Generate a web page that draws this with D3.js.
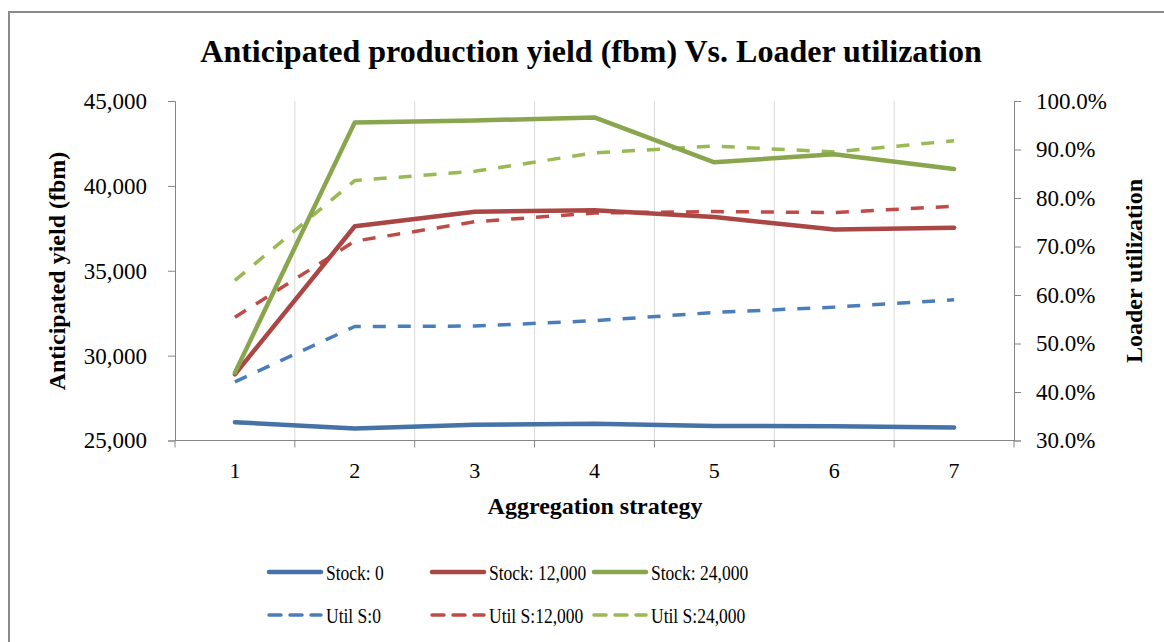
<!DOCTYPE html>
<html>
<head>
<meta charset="utf-8">
<script src="https://cdn.jsdelivr.net/npm/d3@7"></script>
<style>
  html, body { margin: 0; padding: 0; background: #fff; }
  svg { display: block; }
  text { font-family: "Liberation Serif", "Times New Roman", serif; fill: #000; }
</style>
</head>
<body>
<svg id="chart" width="1164" height="642"></svg>
<script>
// Aggregation strategies on the x axis
const strategies = ["1", "2", "3", "4", "5", "6", "7"];

// Anticipated yield (fbm), left axis
const stock0     = [26080, 25700, 25930, 25990, 25860, 25840, 25770];
const stock12000 = [28900, 37620, 38480, 38570, 38170, 37430, 37540];
const stock24000 = [29000, 43740, 43850, 44030, 41390, 41860, 41000];

// Loader utilization (fraction), right axis
const util0     = [0.421, 0.535, 0.536, 0.547, 0.564, 0.575, 0.590];
const util12000 = [0.554, 0.711, 0.751, 0.769, 0.772, 0.770, 0.783];
const util24000 = [0.630, 0.836, 0.855, 0.893, 0.907, 0.895, 0.918];

// Tick values
const yieldTicks = [25000, 30000, 35000, 40000, 45000];
const utilTicks = [0.3, 0.4, 0.5, 0.6, 0.7, 0.8, 0.9, 1.0];

const BLUE = "#4a7ebb", RED = "#be4b48", GREEN = "#98b954";
const BLUE_S = "#4572a7", RED_S = "#aa4643", GREEN_S = "#89a54e";

const series = [
  { name: "Stock: 0",       values: stock0,     axis: "left",  color: BLUE_S,  dash: null },
  { name: "Stock: 12,000",  values: stock12000, axis: "left",  color: RED_S,   dash: null },
  { name: "Stock: 24,000",  values: stock24000, axis: "left",  color: GREEN_S, dash: null },
  { name: "Util S:0",       values: util0,      axis: "right", color: BLUE,    dash: "13,12" },
  { name: "Util S:12,000",  values: util12000,  axis: "right", color: RED,     dash: "13,12" },
  { name: "Util S:24,000",  values: util24000,  axis: "right", color: GREEN,   dash: "13,12" }
];

const svg = d3.select("#chart");

// Outer chart frame
svg.append("rect")
  .attr("x", 9).attr("y", 12)
  .attr("width", 1200).attr("height", 700)
  .attr("fill", "#fff")
  .attr("stroke", "#8a8a8a").attr("stroke-width", 2);

const plot = { left: 175, right: 1014, top: 101, bottom: 440.5 };

const x = d3.scaleBand().domain(strategies).range([plot.left, plot.right]).padding(0);
const yL = d3.scaleLinear().domain([25000, 45000]).range([plot.bottom, plot.top]);
const yR = d3.scaleLinear().domain([0.3, 1.0]).range([plot.bottom, plot.top]);

// Vertical gridlines between categories
const bounds = strategies.slice(1).map(s => x(s));
svg.append("g").selectAll("line").data(bounds).join("line")
  .attr("x1", d => d).attr("x2", d => d)
  .attr("y1", plot.top).attr("y2", plot.bottom)
  .attr("stroke", "#d9d9d9").attr("stroke-width", 1);

// Title
svg.append("text")
  .attr("x", 591).attr("y", 62)
  .attr("text-anchor", "middle")
  .style("font-size", "32px").style("font-weight", "bold")
  .text("Anticipated production yield (fbm) Vs. Loader utilization");

// Left axis
const fmtYield = d3.format(",");
const gL = svg.append("g").attr("transform", `translate(${plot.left},0)`)
  .call(d3.axisLeft(yL).tickValues(yieldTicks).tickFormat(fmtYield).tickSize(7).tickPadding(21));
gL.select(".domain").attr("stroke", "#868686");
gL.selectAll(".tick line").attr("stroke", "#868686");
gL.selectAll(".tick text").style("font-size", "23px").style("font-family", "Liberation Serif, serif").attr("fill", "#000");

// Right axis
const fmtPct = d3.format(".1%");
const gR = svg.append("g").attr("transform", `translate(${plot.right},0)`)
  .call(d3.axisRight(yR).tickValues(utilTicks).tickFormat(fmtPct).tickSize(7).tickPadding(15));
gR.select(".domain").attr("stroke", "#868686");
gR.selectAll(".tick line").attr("stroke", "#868686");
gR.selectAll(".tick text").style("font-size", "23px").style("font-family", "Liberation Serif, serif").attr("fill", "#000");

// Bottom axis: category labels at band centers, ticks at band edges
const gB = svg.append("g").attr("transform", `translate(0,${plot.bottom})`);
gB.append("line")
  .attr("x1", plot.left).attr("x2", plot.right)
  .attr("stroke", "#868686").attr("stroke-width", 1);
const edges = strategies.map(s => x(s)).concat([plot.right]);
gB.selectAll("line.tk").data(edges).join("line").attr("class", "tk")
  .attr("x1", d => d).attr("x2", d => d).attr("y1", 0).attr("y2", 7)
  .attr("stroke", "#868686");
gB.selectAll("text").data(strategies).join("text")
  .attr("x", d => x(d) + x.bandwidth() / 2).attr("y", 37)
  .attr("text-anchor", "middle")
  .style("font-size", "22px")
  .text(d => d);

// Axis titles
svg.append("text")
  .attr("transform", "translate(65,271) rotate(-90)")
  .attr("text-anchor", "middle")
  .style("font-size", "24px").style("font-weight", "bold")
  .text("Anticipated yield (fbm)");
svg.append("text")
  .attr("transform", "translate(1142,271) rotate(-90)")
  .attr("text-anchor", "middle")
  .style("font-size", "24px").style("font-weight", "bold")
  .text("Loader utilization");
svg.append("text")
  .attr("x", 595).attr("y", 514)
  .attr("text-anchor", "middle")
  .style("font-size", "24px").style("font-weight", "bold")
  .text("Aggregation strategy");

// Series lines
const cx = d => x(d) + x.bandwidth() / 2;
const draw = [series[3], series[4], series[5], series[0], series[1], series[2]];
draw.forEach(s => {
  const yS = s.axis === "left" ? yL : yR;
  const line = d3.line().x((v, i) => cx(strategies[i])).y(v => yS(v));
  svg.append("path")
    .datum(s.values)
    .attr("d", line)
    .attr("fill", "none")
    .attr("stroke", s.color)
    .attr("stroke-width", s.dash ? 3.5 : 4.5)
    .attr("stroke-dasharray", s.dash)
    .attr("stroke-linecap", s.dash ? "butt" : "round")
    .attr("stroke-linejoin", "round");
});

// Legend (labels use a condensed serif face)
const legendPos = [
  { x: 269, y: 572 }, { x: 432, y: 572 }, { x: 594, y: 572 },
  { x: 269, y: 615 }, { x: 432, y: 615 }, { x: 594, y: 615 }
];
series.forEach((s, i) => {
  const p = legendPos[i];
  svg.append("line")
    .attr("x1", p.x).attr("x2", p.x + 52)
    .attr("y1", p.y).attr("y2", p.y)
    .attr("stroke", s.color)
    .attr("stroke-width", s.dash ? 3.5 : 4.5)
    .attr("stroke-dasharray", s.dash ? "12,9" : null)
    .attr("stroke-linecap", "round");
  svg.append("text")
    .attr("transform", `translate(${p.x + 57},${p.y + 7.5}) scale(0.875,1)`)
    .style("font-size", "20px")
    .text(s.name);
});
</script>
</body>
</html>
